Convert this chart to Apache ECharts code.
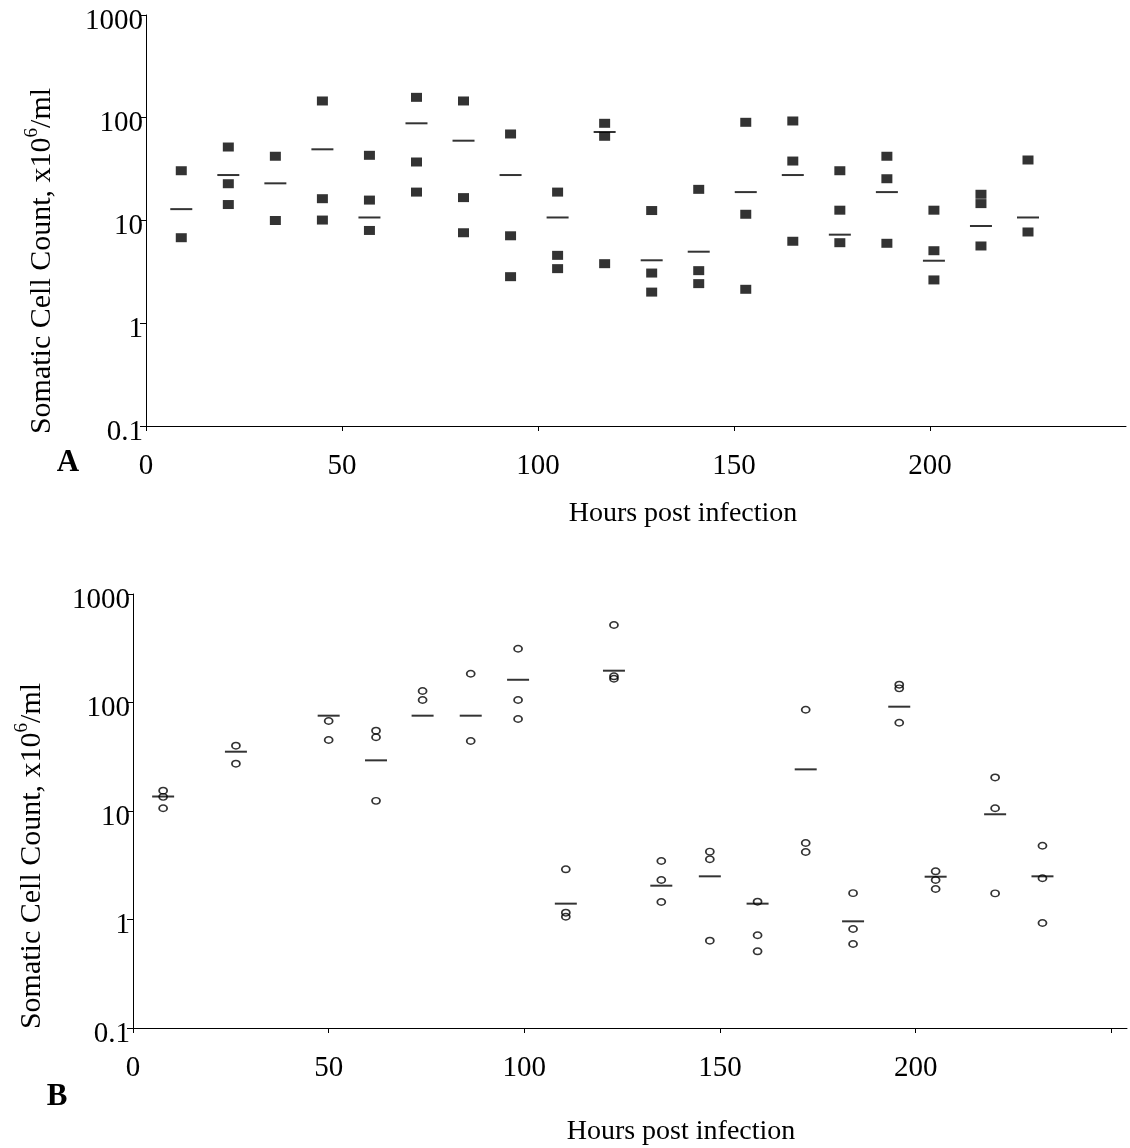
<!DOCTYPE html>
<html>
<head>
<meta charset="utf-8">
<script src="https://cdn.jsdelivr.net/npm/echarts@6/dist/echarts.min.js"></script>
<style>
html,body{margin:0;padding:0;background:#fff;}
#chart{width:1130px;height:1148px;}
</style>
</head>
<body>
<div id="chart"></div>
<script>
// ---------- Panel A data (filled squares + mean bars) ----------
const hoursA = [9, 21, 33, 45, 57, 69, 81, 93, 105, 117, 129, 141, 153, 165, 177, 189, 201, 213, 225];
const obsA = [
  [30.5, 6.8],
  [51.9, 22.8, 14.3],
  [42.2, 10.0],
  [145.6, 16.3, 10.1],
  [43.1, 15.8, 8.0],
  [158, 37.1, 18.9],
  [145.6, 16.7, 7.6],
  [69.5, 7.1, 2.84],
  [18.9, 4.58, 3.4],
  [88.3, 66, 3.8],
  [12.5, 3.08, 2.01],
  [20.1, 3.25, 2.43],
  [90.3, 11.5, 2.14],
  [93, 37.9, 6.28],
  [30.5, 12.6, 6.08],
  [42.2, 25.5, 6.0],
  [12.6, 5.08, 2.64],
  [18.0, 14.6, 5.65],
  [38.8, 7.73]
];
const meanA = [12.9, 27.7, 23.0, 49.3, 10.7, 88.3, 59.8, 27.7, 10.7, 72.7, 4.1, 4.97, 18.9, 27.7, 7.28, 18.9, 4.06, 8.84, 10.7];

// ---------- Panel B data (open circles + mean bars) ----------
const hoursB = [7.7, 26.3, 50, 62.1, 74, 86.3, 98.4, 122.9, 110.6, 135, 147.4, 159.6, 171.9, 184, 195.8, 205.1, 220.3, 232.4];
const obsB = [
  [15.4, 13.5, 10.6],
  [40.0, 27.3],
  [67.5, 45.1],
  [55.0, 47.8, 12.4],
  [127.6, 105.4],
  [184.2, 44.2],
  [313, 105.4, 70.5],
  [518, 174.3, 165.7],
  [2.9, 1.156, 1.06],
  [3.46, 2.31, 1.45],
  [4.22, 3.59, 0.638],
  [1.46, 0.715, 0.509],
  [85.8, 5.07, 4.19],
  [1.75, 0.817, 0.594],
  [146, 135, 65.1],
  [2.78, 2.31, 1.91],
  [20.4, 10.6, 1.74],
  [4.79, 2.4, 0.929]
];
const meanB = [13.6, 35.2, 75.6, 29.3, 75.6, 75.6, 162, 196.4, 1.4, 2.05, 2.5, 1.4, 24.2, 0.962, 91.5, 2.48, 9.33, 2.5];

// ---------- Axis tick labels ----------
const yTicks = [0.1, 1, 10, 100, 1000];
const xTickLabels = [0, 50, 100, 150, 200];

// ---------- Text ----------
const yTitle = ['Somatic Cell Count, x10', '6', '/ml'];
const xTitle = 'Hours post infection';
const panelLabels = ['A', 'B'];

const FONT = '"Liberation Serif", "Times New Roman", serif';

function pointsOf(hours, obs) {
  const out = [];
  hours.forEach((h, i) => obs[i].forEach(v => out.push([h, v])));
  return out;
}
function meansOf(hours, means) {
  return hours.map((h, i) => [h, means[i]]);
}

function xAxisCfg(gridIndex, max) {
  return {
    type: 'value', gridIndex, min: 0, max, interval: 50,
    axisLine: { show: true, lineStyle: { color: '#000', width: 1 } },
    axisTick: { show: true, length: 5, inside: false, lineStyle: { color: '#000' } },
    splitLine: { show: false },
    axisLabel: {
      color: '#000', fontFamily: FONT, fontSize: 29, margin: 26,
      showMaxLabel: false,
      formatter: v => (xTickLabels.indexOf(v) >= 0 ? String(v) : '')
    }
  };
}
function yAxisCfg(gridIndex) {
  return {
    type: 'log', logBase: 10, gridIndex, min: 0.1, max: 1000,
    axisLine: { show: true, lineStyle: { color: '#000', width: 1 } },
    axisTick: { show: true, length: 6, inside: false, lineStyle: { color: '#000' } },
    splitLine: { show: false },
    minorTick: { show: false },
    axisLabel: {
      color: '#000', fontFamily: FONT, fontSize: 29, margin: 3,
      formatter: v => {
        const m = yTicks.find(t => Math.abs(Math.log10(t) - Math.log10(v)) < 1e-6);
        return m === undefined ? '' : '{v|' + String(m) + '}';
      },
      rich: {
        v: { fontFamily: FONT, fontSize: 29, color: '#000', padding: [12, 0, 0, 0] }
      }
    }
  };
}

const chart = echarts.init(document.getElementById('chart'), null, { renderer: 'canvas' });

function yTitleGraphic(x, y) {
  return {
    type: 'text', x, y, rotation: Math.PI / 2,
    style: {
      text: '{a|' + yTitle[0] + '}{s|' + yTitle[1] + '}{a|' + yTitle[2] + '}',
      align: 'center', verticalAlign: 'middle',
      rich: {
        a: { fontFamily: FONT, fontSize: 30, fill: '#000', lineHeight: 34, verticalAlign: 'bottom' },
        s: { fontFamily: FONT, fontSize: 19, fill: '#000', lineHeight: 34, verticalAlign: 'top', padding: [0, 0, 14, 0] }
      }
    }
  };
}
function textGraphic(x, y, text, bold) {
  return {
    type: 'text', x, y,
    style: {
      text, align: 'center', verticalAlign: 'middle',
      fontFamily: FONT, fontSize: bold ? 31 : 28, fontWeight: bold ? 'bold' : 'normal', fill: '#000'
    }
  };
}

chart.setOption({
  animation: false,
  backgroundColor: '#fff',
  grid: [
    { left: 146, top: 15, width: 980, height: 411, containLabel: false },
    { left: 133, top: 594, width: 994, height: 434, containLabel: false }
  ],
  xAxis: [xAxisCfg(0, 250), xAxisCfg(1, 254)],
  yAxis: [yAxisCfg(0), yAxisCfg(1)],
  series: [
    {
      type: 'scatter', xAxisIndex: 0, yAxisIndex: 0,
      data: pointsOf(hoursA, obsA),
      symbol: 'rect', symbolSize: [11, 9],
      itemStyle: { color: '#000' }, z: 2
    },
    {
      type: 'scatter', xAxisIndex: 0, yAxisIndex: 0,
      data: meansOf(hoursA, meanA),
      symbol: 'rect', symbolSize: [22, 2],
      itemStyle: { color: '#000' }, z: 3
    },
    {
      type: 'scatter', xAxisIndex: 1, yAxisIndex: 1,
      data: pointsOf(hoursB, obsB),
      symbol: 'circle', symbolSize: [8, 6.5],
      itemStyle: { color: 'rgba(255,255,255,0)', borderColor: '#000', borderWidth: 1.6 }, z: 2
    },
    {
      type: 'scatter', xAxisIndex: 1, yAxisIndex: 1,
      data: meansOf(hoursB, meanB),
      symbol: 'rect', symbolSize: [22, 2],
      itemStyle: { color: '#000' }, z: 3
    }
  ],
  graphic: [
    yTitleGraphic(40, 261),
    yTitleGraphic(30, 856),
    textGraphic(683, 514, xTitle, false),
    textGraphic(681, 1132, xTitle, false),
    textGraphic(68, 463, panelLabels[0], true),
    textGraphic(57, 1097, panelLabels[1], true)
  ]
});
</script>
</body>
</html>
